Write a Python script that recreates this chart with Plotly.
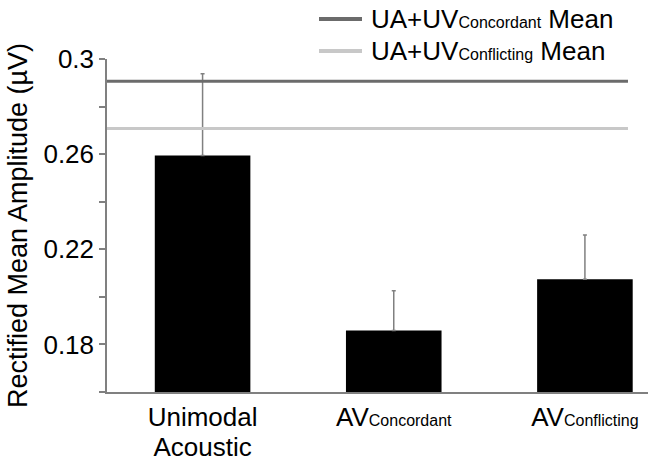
import plotly.graph_objects as go

# ---- data ----
category_main = ["Unimodal<br>Acoustic", "AV", "AV"]
category_sub = ["", "Concordant", "Conflicting"]
means = [0.2594, 0.1859, 0.2074]
err_plus = [0.0344, 0.0167, 0.0186]

ref_main = ["UA+UV", "UA+UV"]
ref_sub = ["Concordant", "Conflicting"]
ref_suffix = [" Mean", " Mean"]
ref_values = [0.2906, 0.2708]

tick_vals = [0.16, 0.18, 0.20, 0.22, 0.24, 0.26, 0.28, 0.30]
tick_text = ["", "0.18", "", "0.22", "", "0.26", "", "0.3"]

# ---- style ----
ref_colors = ["#6b6b6b", "#c8c8c8"]
FONT = "Arial, 'Liberation Sans', sans-serif"
AXIS_COLOR = "#808080"
MAIN = "<span style='font-size:26px'>{}</span>"
SUB = "<span style='font-size:16px'>{}</span>"


def label(main, sub, suffix=""):
    s = MAIN.format(main)
    if sub:
        s += SUB.format(sub)
    if suffix:
        s += MAIN.format(suffix)
    return s


categories = [label(m, s) for m, s in zip(category_main, category_sub)]
ref_names = [label(m, s, x) for m, s, x in zip(ref_main, ref_sub, ref_suffix)]

W, H = 652, 465
ML, MR, MT, MB = 107, 4, 59, 73
PW, PH = W - ML - MR, H - MT - MB

fig = go.Figure()
fig.add_trace(go.Bar(
    x=categories, y=means, width=0.5,
    marker=dict(color="black", line=dict(width=0)),
    error_y=dict(type="data", symmetric=False, array=err_plus,
                 arrayminus=[0] * len(err_plus),
                 color="#808080", thickness=1.5, width=2),
    showlegend=False,
))

shapes = []
annotations = []
legend_rows_px = [19, 51]
for name, val, col, row_y in zip(ref_names, ref_values, ref_colors, legend_rows_px):
    shapes.append(dict(type="line", xref="x domain", yref="y",
                       x0=0, x1=0.963, y0=val, y1=val,
                       line=dict(color=col, width=3)))
    ly = 1 + (MT - row_y) / PH
    shapes.append(dict(type="line", xref="paper", yref="paper",
                       x0=(319 - ML) / PW, x1=(362 - ML) / PW, y0=ly, y1=ly,
                       line=dict(color=col, width=4)))
    annotations.append(dict(xref="paper", yref="paper",
                            x=(369 - ML) / PW, y=ly, xanchor="left", yanchor="middle",
                            text=name, showarrow=False,
                            font=dict(size=26, color="black")))

fig.update_layout(
    width=W, height=H,
    margin=dict(l=ML, r=MR, t=MT, b=MB),
    plot_bgcolor="white", paper_bgcolor="white",
    font=dict(family=FONT, size=26, color="black"),
    shapes=shapes, annotations=annotations,
    showlegend=False,
    xaxis=dict(range=[-0.5, 2.33], showline=True, linecolor=AXIS_COLOR,
               linewidth=1.5, ticks="", showgrid=False, zeroline=False,
               tickfont=dict(size=23), ticklabelstandoff=5, automargin=False),
    yaxis=dict(range=[0.16, 0.30], showline=True, linecolor=AXIS_COLOR,
               linewidth=1.5, ticks="outside", ticklen=6, tickcolor=AXIS_COLOR,
               tickwidth=1.5, tickvals=tick_vals, ticktext=tick_text,
               showgrid=False, zeroline=False, tickfont=dict(size=26),
               automargin=False,
               title=dict(text="Rectified Mean Amplitude (µV)",
                          font=dict(size=27), standoff=8)),
)

fig.write_html("out.html", config={"displayModeBar": False},
               post_script="document.body.style.margin='0';document.body.style.overflow='hidden';")
